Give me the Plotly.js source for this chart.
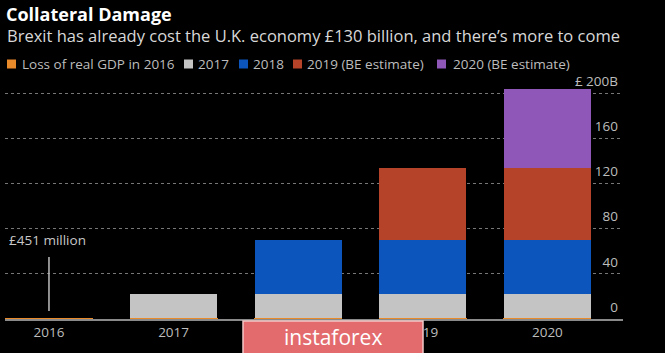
<!DOCTYPE html>
<html>
<head>
<meta charset="utf-8">
<script src="https://cdn.plot.ly/plotly-3.0.1.min.js"></script>
<style>html,body{margin:0;padding:0;background:#000;}#chart{width:665px;height:353px;}</style>
</head>
<body>
<div id="chart"></div>
<script>
// ---- data ----
var years = ["2016", "2017", "2018", "2019", "2020"];
var loss2016 = [0.451, 0.451, 0.451, 0.451, 0.451];
var loss2017 = [0, 22, 22, 22, 22];
var loss2018 = [0, 0, 47.5, 47.5, 47.5];
var loss2019 = [0, 0, 0, 64, 64];
var loss2020 = [0, 0, 0, 0, 70];
var seriesNames = ["Loss of real GDP in 2016", "2017", "2018", "2019 (BE estimate)", "2020 (BE estimate)"];
var seriesColors = ["#e8892a", "#c4c4c4", "#0b55bd", "#b5432a", "#8e57b8"];
var tickVals = [0, 40, 80, 120, 160, 200];
var tickText = ["0", "40", "80", "120", "160", "£ 200B"];
var titleText = "Collateral Damage";
var subtitleText = "Brexit has already cost the U.K. economy £130 billion, and there’s more to come";
var noteText = "£451 million";

var seriesValues = [loss2016, loss2017, loss2018, loss2019, loss2020];
var FONT = "Open Sans, Noto Sans, sans-serif";

var traces = seriesValues.map(function (vals, i) {
  return {
    type: "bar",
    x: years,
    y: vals,
    name: seriesNames[i],
    marker: { color: seriesColors[i], line: { width: i === 0 ? 1 : 0, color: seriesColors[i] } },
    hoverinfo: "skip"
  };
});

// layout geometry (pixels)
var W = 665, H = 353, ML = 5, MR = 42, MT = 68, MB = 34;
var pw = W - ML - MR, ph = H - MT - MB;
function px2x(px) { return (px - ML) / pw; }
function py2y(py) { return (H - MB - py) / ph; }
var catPx = 124.6, unitPx = 1.129;
var xr0 = -0.353, xr1 = xr0 + pw / catPx;
var yTop = ph / unitPx;

// manual legend (swatch + label)
var legendSwatchX = [7, 184, 239, 293, 437];
var legendTextX = [20, 196, 251, 305, 451];
var legendY = 64;

var annotations = [];
var shapes = [];
seriesNames.forEach(function (n, i) {
  shapes.push({
    type: "rect", xref: "paper", yref: "paper",
    x0: px2x(legendSwatchX[i]), x1: px2x(legendSwatchX[i] + 9),
    y0: py2y(legendY + 4.5), y1: py2y(legendY - 4.5),
    fillcolor: seriesColors[i], line: { width: 0 }
  });
  annotations.push({
    xref: "paper", yref: "paper", x: px2x(legendTextX[i]), y: py2y(legendY),
    xanchor: "left", yanchor: "middle", showarrow: false,
    text: n, font: { family: FONT, size: 13.5, color: "#bdbdbd" }
  });
});
annotations.push({
  xref: "paper", yref: "paper", x: px2x(5), y: py2y(36),
  xanchor: "left", yanchor: "middle", showarrow: false,
  text: subtitleText, font: { family: FONT, size: 16.5, color: "#d8d8d8" }
});
annotations.push({
  xref: "paper", yref: "y", x: px2x(7), y: 70,
  xanchor: "left", yanchor: "middle", showarrow: false,
  text: noteText, font: { family: FONT, size: 13.5, color: "#c8c8c8" }
});
// watermark
annotations.push({
  xref: "paper", yref: "paper", x: px2x(333), y: py2y(337),
  xanchor: "center", yanchor: "middle", showarrow: false,
  text: "instaforex", font: { family: FONT, size: 21, color: "#ffffff" }
});

shapes.push({ type: "line", xref: "x", yref: "y", x0: 0, x1: 0, y0: 7, y1: 55,
  line: { color: "#bdbdbd", width: 1.5 } });
shapes.push({ type: "rect", xref: "paper", yref: "paper",
  x0: px2x(243), x1: px2x(423), y0: py2y(356), y1: py2y(321),
  fillcolor: "#e36b6e", line: { color: "#f4c8c8", width: 1.5 }, layer: "above" });

var layout = {
  width: W, height: H,
  margin: { l: ML, r: MR, t: MT, b: MB, pad: 0 },
  paper_bgcolor: "#000", plot_bgcolor: "#000",
  barmode: "stack", bargap: 0.302,
  showlegend: false,
  title: {
    text: "<b>" + titleText + "</b>",
    x: 6 / W, xanchor: "left", xref: "container",
    y: 1 - 15 / H, yanchor: "middle", yref: "container",
    font: { family: FONT, size: 18, color: "#ffffff" }
  },
  xaxis: {
    type: "category", range: [xr0, xr1],
    showgrid: false, zeroline: false,
    showline: true, linecolor: "#8a8a8a", linewidth: 1.5, layer: "below traces",
    ticks: "", tickfont: { family: FONT, size: 13.5, color: "#bdbdbd" },
    fixedrange: true
  },
  yaxis: {
    range: [0, yTop], side: "right",
    tickvals: tickVals, ticktext: tickText,
    ticklabelposition: "inside", ticklabelshift: -12, ticklabelstandoff: 2,
    tickfont: { family: FONT, size: 13.5, color: "#bdbdbd" },
    showgrid: true, gridcolor: "#777", griddash: "dot", gridwidth: 1,
    zeroline: false, showline: false, ticks: "",
    fixedrange: true
  },
  shapes: shapes,
  annotations: annotations
};

Plotly.newPlot("chart", traces, layout, { displayModeBar: false, staticPlot: true });
</script>
</body>
</html>
